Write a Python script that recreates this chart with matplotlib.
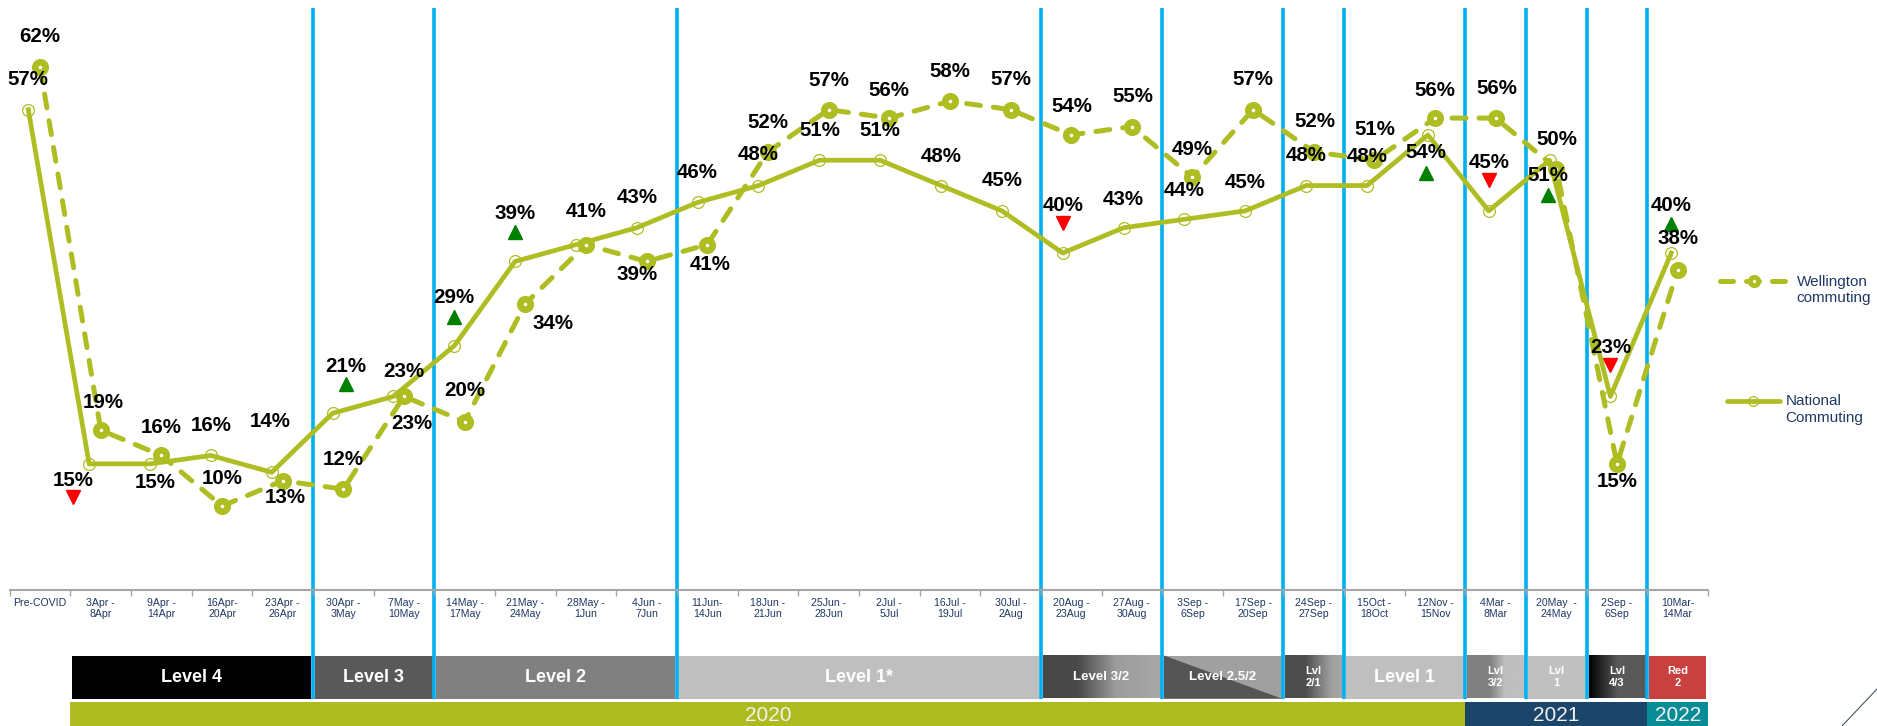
import numpy as np
import matplotlib
matplotlib.use('Agg')
import matplotlib.pyplot as plt
from matplotlib.patches import Rectangle, Polygon
import matplotlib.transforms as mtransforms

plt.rcParams['font.family'] = ['Liberation Sans', 'DejaVu Sans']

# ---------------- data ----------------
categories = ['Pre-COVID', '3Apr -\n8Apr', '9Apr -\n14Apr', '16Apr-\n20Apr', '23Apr -\n26Apr',
              '30Apr -\n3May', '7May -\n10May', '14May -\n17May', '21May -\n24May', '28May -\n1Jun',
              '4Jun -\n7Jun', '11Jun-\n14Jun', '18Jun -\n21Jun', '25Jun -\n28Jun', '2Jul -\n5Jul',
              '16Jul -\n19Jul', '30Jul -\n2Aug', '20Aug -\n23Aug', '27Aug -\n30Aug', '3Sep -\n6Sep',
              '17Sep -\n20Sep', '24Sep -\n27Sep', '15Oct -\n18Oct', '12Nov -\n15Nov', '4Mar -\n8Mar',
              '20May  -\n24May', '2Sep -\n6Sep', '10Mar-\n14Mar']
national = [57, 15, 15, 16, 14, 21, 23, 29, 39, 41, 43, 46, 48, 51, 51, 48, 45, 40, 43, 44,
            45, 48, 48, 54, 45, 51, 23, 40]
wellington = [62, 19, 16, 10, 13, 12, 23, 20, 34, 41, 39, 41, 52, 57, 56, 58, 57, 54, 55, 49,
              57, 52, 51, 56, 56, 50, 15, 38]
national_trend = [None, 'down', None, None, None, 'up', None, 'up', 'up', None, None, None, None, None,
                  None, None, None, 'down', None, None, None, None, None, 'up', 'down', 'up', 'down', 'up']
levels = [('Level 4', 1, 4), ('Level 3', 5, 6), ('Level 2', 7, 10), ('Level 1*', 11, 16),
          ('Level 3/2', 17, 18), ('Level 2.5/2', 19, 20), ('Lvl\n2/1', 21, 21), ('Level 1', 22, 23),
          ('Lvl\n3/2', 24, 24), ('Lvl\n1', 25, 25), ('Lvl\n4/3', 26, 26), ('Red\n2', 27, 27)]
years = [('2020', 1, 23), ('2021', 24, 26), ('2022', 27, 27)]
period_breaks = [4.5, 6.5, 10.5, 16.5, 18.5, 20.5, 21.5, 23.5, 24.5, 25.5, 26.5]

# ---------------- layout / style ----------------
W, H = 1877, 726
OLIVE = '#AEBD22'
NAVY = '#1F3864'
BLUE = '#00B0F0'
LABEL_FS = 14.8

nat_label_off = [(0, 30), (-16, -17), (5, -19), (0, 30), (-2, 51), (13, 47), (10, 25), (0, 48), (0, 48),
                 (10, 33), (0, 30), (0, 30), (0, 31), (0, 30), (0, 30), (0, 29), (0, 30), (0, 48),
                 (0, 28), (0, 29), (0, 28), (0, 30), (0, 29), (-2, -18), (0, 48), (-2, -15), (0, 49), (0, 48)]
wel_label_off = [(0, 31), (2, 28), (0, 28), (0, 28), (3, -17), (0, 30), (8, -27), (0, 31), (28, -20), None,
                 (-10, -13), (3, -20), (0, 29), (0, 29), (0, 28), (0, 30), (0, 30), (1, 28), (1, 30),
                 (0, 28), (0, 30), (1, 30), (0, 31), (0, 28), (1, 30), (0, 29), (0, -18), (0, 31)]
trend_off = {1: (-16, -33), 5: (13, 29), 7: (0, 29), 8: (0, 29), 17: (0, 30), 23: (-2, -38),
             24: (0, 31), 25: (-2, -35), 26: (0, 31), 27: (0, 29)}

level_style = {
    'Level 4': ('solid', ['#000000']), 'Level 3': ('solid', ['#595959']),
    'Level 2': ('solid', ['#808080']), 'Level 1*': ('solid', ['#BFBFBF']),
    'Level 3/2': ('grad', [(0, '#474747'), (0.3, '#4a4a4a'), (0.62, '#9c9c9c'), (1, '#a8a8a8')]),
    'Level 2.5/2': ('diag', ['#545454', '#A0A0A0']),
    'Lvl\n2/1': ('grad', [(0, '#4d4d4d'), (0.35, '#4d4d4d'), (0.8, '#a0a0a0'), (1, '#a6a6a6')]),
    'Level 1': ('solid', ['#BFBFBF']),
    'Lvl\n3/2': ('grad', [(0, '#808080'), (0.4, '#808080'), (0.65, '#BFBFBF'), (1, '#BFBFBF')]),
    'Lvl\n1': ('solid', ['#C0C0C0']),
    'Lvl\n4/3': ('grad', [(0, '#000000'), (0.5, '#595959'), (1, '#595959')]),
    'Red\n2': ('solid', ['#C9413F']),
}
level_fs = {'Level 4': 13, 'Level 3': 13, 'Level 2': 13, 'Level 1*': 13, 'Level 1': 13,
            'Level 3/2': 9.5, 'Level 2.5/2': 9.5}
year_colors = {'2020': '#ADBB21', '2021': '#1B4569', '2022': '#078B95'}

fig = plt.figure(figsize=(W / 100, H / 100), dpi=100)

ax_l, ax_r, ax_b = 9.8, 1708.0, 590.4
n = len(categories)
cat_px = (ax_r - ax_l) / n

# overlay axes (x in category units, y in pixels from top)
fx = fig.add_axes([0, 0, 1, 1])
fx.set_zorder(0)
fx.patch.set_visible(False)
fx.axis('off')

# national chart (pasted slightly shifted)
nat_l = 28.3 - 60.85 / 2
ax2 = fig.add_axes([nat_l / W, (H - ax_b) / H, 60.85 * n / W, ax_b / H])
ax2.set_zorder(1)
ax2.patch.set_visible(False)
ax2.axis('off')
ax2.set_xlim(-0.5, n - 0.5)
ax2.set_ylim(0, 70)

# main axes (wellington + category axis)
ax = fig.add_axes([ax_l / W, (H - ax_b) / H, (ax_r - ax_l) / W, ax_b / H])
ax.set_zorder(2)
ax.patch.set_visible(False)
ax.set_xlim(-0.5, n - 0.5)
ax.set_ylim(0, 70)

x = np.arange(n)

# national line
ax2.plot(x, national, color=OLIVE, lw=3.4, solid_joinstyle='round', marker='o', markersize=8.5,
         markerfacecolor='none', markeredgecolor=OLIVE, markeredgewidth=0.9, clip_on=False)

# wellington line
ax.plot(x, wellington, color=OLIVE, lw=3.6, linestyle=(0, (2.8, 2.6)), dash_capstyle='round',
        marker='o', markersize=7.5, markerfacecolor='white', markeredgecolor=OLIVE,
        markeredgewidth=4.8, clip_on=False, zorder=3)

# labels
for i, v in enumerate(national):
    dx, dy = nat_label_off[i]
    ax.annotate(f'{v}%', xy=(i, v), xycoords=ax2.transData, xytext=(dx, dy),
                textcoords='offset pixels', ha='center', va='center', fontsize=LABEL_FS,
                fontweight='bold', color='black', annotation_clip=False, zorder=6)
for i, v in enumerate(wellington):
    off = wel_label_off[i]
    if off is None:
        continue
    ax.annotate(f'{v}%', xy=(i, v), xycoords=ax.transData, xytext=off,
                textcoords='offset pixels', ha='center', va='center', fontsize=LABEL_FS,
                fontweight='bold', color='black', annotation_clip=False, zorder=6)
for i, t in enumerate(national_trend):
    if t is None:
        continue
    dx, dy = trend_off[i]
    tr = mtransforms.offset_copy(ax2.transData, fig=fig, x=dx, y=dy, units='dots')
    ax.plot([i], [national[i]], marker='^' if t == 'up' else 'v',
            color='#008000' if t == 'up' else '#FF0000', markersize=10, linestyle='none',
            transform=tr, clip_on=False, zorder=5)

# axis styling
for s in ['left', 'right', 'top']:
    ax.spines[s].set_visible(False)
ax.spines['bottom'].set_color('#A6A6A6')
ax.spines['bottom'].set_linewidth(1.5)
ax.set_yticks([])
ax.set_xticks(x)
ax.set_xticklabels(categories, fontsize=7.6, color=NAVY, linespacing=1.1)
ax.set_xticks(np.arange(-0.5, n, 1), minor=True)
ax.tick_params(axis='x', which='major', length=0, pad=5.5)
ax.tick_params(axis='x', which='minor', length=4, color='#A6A6A6', width=1)

# overlay coordinate system
fx.set_xlim(-0.5 - ax_l / cat_px, -0.5 + (W - ax_l) / cat_px)
fx.set_ylim(H, 0)
fx.set_autoscale_on(False)

def hex2rgb(h):
    h = h.lstrip('#')
    return np.array([int(h[k:k + 2], 16) / 255 for k in (0, 2, 4)])

inset = 0.03
lv_top, lv_bot = 655.5, 698.5
for name, a, b in levels:
    x0, x1 = a - 0.5 + inset, b + 0.5 - inset
    kind, cols = level_style[name]
    if kind == 'solid':
        fx.add_patch(Rectangle((x0, lv_top), x1 - x0, lv_bot - lv_top, facecolor=cols[0],
                               edgecolor='none', zorder=1))
    elif kind == 'grad':
        stops = np.array([s for s, _ in cols])
        rgbs = np.array([hex2rgb(c) for _, c in cols])
        t = np.linspace(0, 1, 200)
        arr = np.stack([np.interp(t, stops, rgbs[:, k]) for k in range(3)], axis=-1)[None, :, :]
        fx.imshow(arr, extent=(x0, x1, lv_bot, lv_top), aspect='auto', zorder=1,
                  interpolation='bilinear')
    else:
        fx.add_patch(Rectangle((x0, lv_top), x1 - x0, lv_bot - lv_top, facecolor=cols[1],
                               edgecolor='none', zorder=1))
        fx.add_patch(Polygon([(x0, lv_top), (x1, lv_bot), (x0, lv_bot)], closed=True,
                             facecolor=cols[0], edgecolor='none', zorder=1.1))
    fs = level_fs.get(name, 8)
    fx.text((x0 + x1) / 2, (lv_top + lv_bot) / 2 + 0.5, name, ha='center', va='center',
            fontsize=fs, fontweight='bold', color='white', linespacing=1.25, zorder=2)

yr_top, yr_bot = 702.3, 726
for name, a, b in years:
    x0, x1 = a - 0.5, b + 0.5
    fx.add_patch(Rectangle((x0, yr_top), x1 - x0, yr_bot - yr_top, facecolor=year_colors[name],
                           edgecolor='none', zorder=1))
    fx.text((x0 + x1) / 2, (yr_top + yr_bot) / 2 + 1, name, ha='center', va='center',
            fontsize=15, color='#F2F2F2', zorder=2)

fx.vlines(period_breaks, 8, 699, colors=BLUE, lw=2.6, zorder=5)

# legend (pixel positions)
def P(px, py):
    return (px / W, 1 - py / H)

tf = fig.transFigure
(xa, ya), (xb, yb) = P(1720, 280.7), P(1790, 280.7)
fx.plot([xa, xb], [ya, yb], transform=tf, color=OLIVE, lw=3.6, linestyle=(0, (2.6, 2.6)),
        dash_capstyle='round', clip_on=False)
fx.plot([P(1754, 280.7)[0]], [P(1754, 280.7)[1]], transform=tf, marker='o', markersize=6,
        markerfacecolor='white', markeredgecolor=OLIVE, markeredgewidth=3.5, clip_on=False)
fx.text(*P(1796.5, 290), 'Wellington\ncommuting', transform=tf, ha='left', va='center',
        fontsize=11, color=NAVY, linespacing=1.2)
(xa, ya), (xb, yb) = P(1727, 400.7), P(1780, 400.7)
fx.plot([xa, xb], [ya, yb], transform=tf, color=OLIVE, lw=3.4, solid_capstyle='round', clip_on=False)
fx.plot([P(1753, 400.7)[0]], [P(1753, 400.7)[1]], transform=tf, marker='o', markersize=7,
        markerfacecolor='none', markeredgecolor=OLIVE, markeredgewidth=0.9, clip_on=False)
fx.text(*P(1785.3, 409.5), 'National\nCommuting', transform=tf, ha='left', va='center',
        fontsize=11, color=NAVY, linespacing=1.2)

# decorative corner line
(xa, ya), (xb, yb) = P(1842, 726), P(1877, 689)
fx.plot([xa, xb], [ya, yb], transform=tf, color='#44546A', lw=0.8, clip_on=False)

fig.savefig('out.png', dpi=100)
